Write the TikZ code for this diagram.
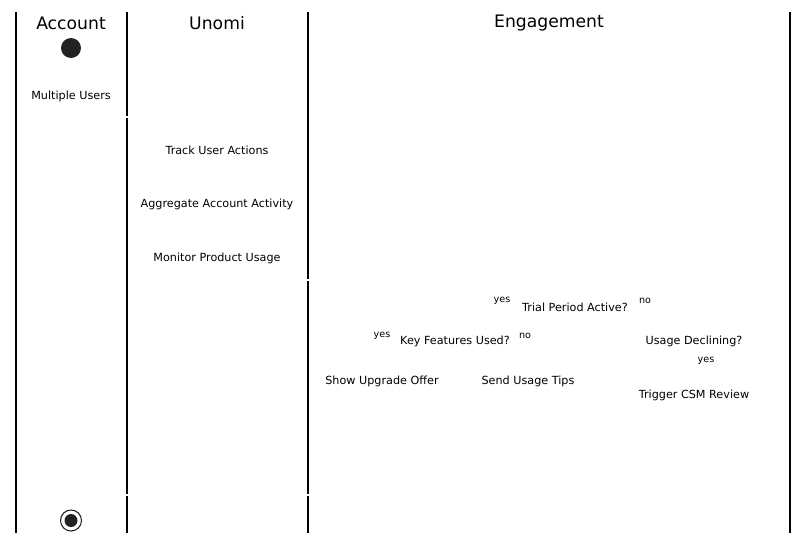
\documentclass[tikz,border=0pt]{standalone}
\usepackage{fontspec}
\setmainfont{DejaVu Sans}
\tikzset{every picture/.style={line width=1pt}}
\tikzset{
  lanetitle/.style={inner sep=0.75pt, font=\fontsize{12.9}{14}\selectfont},
  actlabel/.style={inner sep=0.75pt, font=\fontsize{8.4}{10}\selectfont},
  guardlabel/.style={inner sep=0.75pt, font=\fontsize{7.2}{8}\selectfont}
}

\begin{document}
\begin{tikzpicture}[x=0.75pt,y=0.75pt,yscale=-1,xscale=1]
\useasboundingbox (0,0) rectangle (809,543);

%Straight Lines: lane borders
\draw [color={rgb, 255:red, 0; green, 0; blue, 0 }] (16,12) -- (16,533) ;
\draw [color={rgb, 255:red, 0; green, 0; blue, 0 }] (127,12) -- (127,116) ;
\draw [color={rgb, 255:red, 0; green, 0; blue, 0 }] (127,117.5) -- (127,494) ;
\draw [color={rgb, 255:red, 0; green, 0; blue, 0 }] (127,496) -- (127,533) ;
\draw [color={rgb, 255:red, 0; green, 0; blue, 0 }] (308,12) -- (308,279) ;
\draw [color={rgb, 255:red, 0; green, 0; blue, 0 }] (308,281) -- (308,494) ;
\draw [color={rgb, 255:red, 0; green, 0; blue, 0 }] (308,496) -- (308,533) ;
\draw [color={rgb, 255:red, 0; green, 0; blue, 0 }] (790,12) -- (790,533) ;

% Text Node: lane titles
\node [lanetitle] (account) at (71,23) {Account};
\node [lanetitle] (unomi) at (217,23) {Unomi};
\node [lanetitle] (engagement) at (549,23) {Engagement};

%Shape: Circle start
\fill [color={rgb, 255:red, 34; green, 34; blue, 34 }] (71,48) circle (10) ;
%Shape: Circle end
\draw [line width=0.8pt, color={rgb, 255:red, 34; green, 34; blue, 34 }] (71,520.5) circle (10.5) ;
\fill [color={rgb, 255:red, 34; green, 34; blue, 34 }] (71,520.5) circle (6.5) ;

% Text Node: Account lane
\node [actlabel] (multiusers) at (71,96) {Multiple Users};

% Text Node: Unomi lane
\node [actlabel] (trackactions) at (217,150) {Track User Actions};
\node [actlabel] (aggregate) at (217,204) {Aggregate Account Activity};
\node [actlabel] (monitor) at (217,258) {Monitor Product Usage};

% Text Node: Engagement lane
\node [actlabel] (trialactive) at (575,307) {Trial Period Active?};
\node [guardlabel] (trialyes) at (502,301) {yes};
\node [guardlabel] (trialno) at (645,301) {no};
\node [actlabel] (keyfeatures) at (455,341) {Key Features Used?};
\node [guardlabel] (keyyes) at (382,336) {yes};
\node [guardlabel] (keyno) at (525,336) {no};
\node [actlabel] (declining) at (694,341) {Usage Declining?};
\node [guardlabel] (declyes) at (706,361) {yes};
\node [actlabel] (upgrade) at (382,381) {Show Upgrade Offer};
\node [actlabel] (usagetips) at (528,381) {Send Usage Tips};
\node [actlabel] (csmreview) at (694,395) {Trigger CSM Review};

\end{tikzpicture}
\end{document}
